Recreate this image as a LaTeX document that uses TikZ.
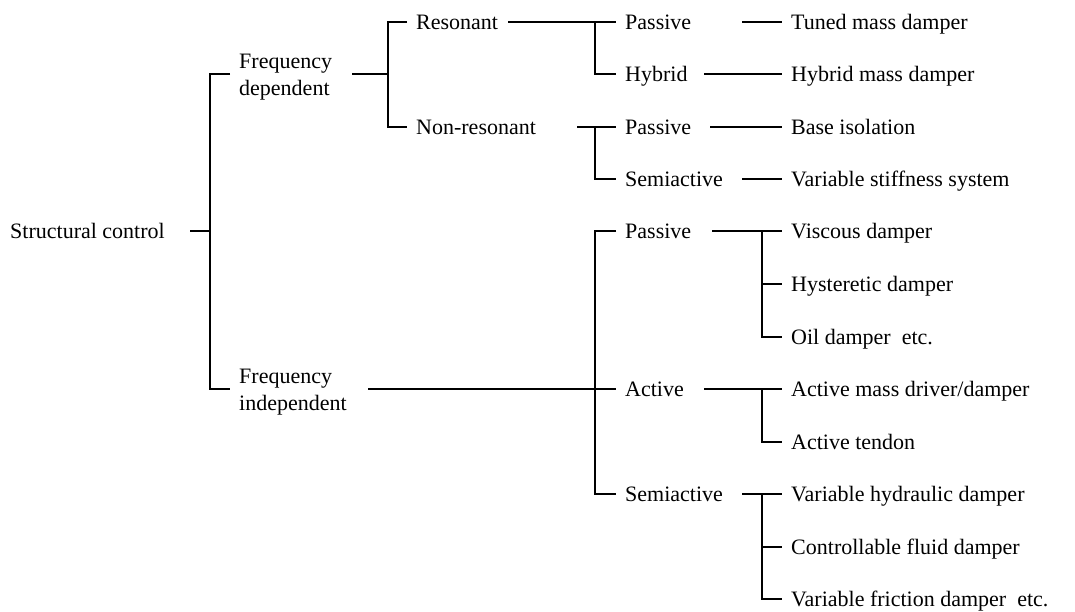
\documentclass[tikz,border=0pt]{standalone}
\usepackage{fontspec}
\setmainfont{Liberation Serif}
\begin{document}
\begin{tikzpicture}[x=1pt,y=-1pt,
  lbl/.style={anchor=west, inner xsep=9pt, inner ysep=0pt,
    text height=14.56pt, text depth=0pt, font=\fontsize{22}{27}\selectfont},
  lbltwo/.style={anchor=base west, align=left, inner xsep=9pt, inner ysep=0pt,
    font=\fontsize{22}{27}\selectfont},
  conn/.style={line width=1.9pt, draw=black}]
\useasboundingbox (0,0) rectangle (1075,611);

% first level (two-line labels sit on the baseline of their last line)
\node[lbl] (sc) at (1,231) {Structural control};
\node[lbltwo] (fd) at (230,95) {Frequency\\dependent};
\node[lbltwo] (fi) at (230,410) {Frequency\\independent};

% second level
\node[lbl] (res)  at (407,22)  {Resonant};
\node[lbl] (nres) at (407,127) {Non-resonant};

% third level
\node[lbl] (p1)  at (616,22)  {Passive};
\node[lbl] (hyb) at (616,74)  {Hybrid};
\node[lbl] (p2)  at (616,127) {Passive};
\node[lbl] (s1)  at (616,179) {Semiactive};
\node[lbl] (p3)  at (616,231) {Passive};
\node[lbl] (act) at (616,389) {Active};
\node[lbl] (s2)  at (616,494) {Semiactive};

% devices
\node[lbl] (tmd) at (782,22)  {Tuned mass damper};
\node[lbl] (hmd) at (782,74)  {Hybrid mass damper};
\node[lbl] (bi)  at (782,127) {Base isolation};
\node[lbl] (vss) at (782,179) {Variable stiffness system};
\node[lbl] (vd)  at (782,231) {Viscous damper};
\node[lbl] (hd)  at (782,284) {Hysteretic damper};
\node[lbl] (od)  at (782,337) {Oil damper\ \ etc.};
\node[lbl] (amd) at (782,389) {Active mass driver/damper};
\node[lbl] (atd) at (782,442) {Active tendon};
\node[lbl] (vhd) at (782,494) {Variable hydraulic damper};
\node[lbl] (cfd) at (782,547) {Controllable fluid damper};
\node[lbl] (vfd) at (782,599) {Variable friction damper\ \ etc.};

% stub starts and junctions
\coordinate (scout)   at (190,231);
\coordinate (j1)      at (210,231);
\coordinate (fdout)   at (352,74);
\coordinate (fdin)    at (230,74);
\coordinate (fiin)    at (230,389);
\coordinate (fiout)   at (368,389);
\coordinate (j2)      at (388,74);
\coordinate (resout)  at (508,22);
\coordinate (j3)      at (595,22);
\coordinate (nresout) at (577,127);
\coordinate (j4)      at (595,127);
\coordinate (j5)      at (595,389);
\coordinate (p1out)   at (742,22);
\coordinate (hybout)  at (704,74);
\coordinate (p2out)   at (710,127);
\coordinate (s1out)   at (742,179);
\coordinate (p3out)   at (712,231);
\coordinate (j6)      at (762,231);
\coordinate (actout)  at (704,389);
\coordinate (j7)      at (762,389);
\coordinate (s2out)   at (742,494);
\coordinate (j8)      at (762,494);

% structural control
\draw[conn] (scout) -- (j1);
\draw[conn] (fdin) -| (j1) |- (fiin);

% frequency dependent
\draw[conn] (fdout) -- (j2);
\draw[conn] (res.west) -| (j2) |- (nres.west);
\draw[conn] (resout) -- (p1.west);
\draw[conn] (j3) |- (hyb.west);
\draw[conn] (nresout) -- (p2.west);
\draw[conn] (j4) |- (s1.west);

% frequency independent
\draw[conn] (fiout) -- (act.west);
\draw[conn] (p3.west) -| (j5) |- (s2.west);

% leaves
\draw[conn] (p1out) -- (tmd.west);
\draw[conn] (hybout) -- (hmd.west);
\draw[conn] (p2out) -- (bi.west);
\draw[conn] (s1out) -- (vss.west);

\draw[conn] (p3out) -- (vd.west);
\draw[conn] (j6) |- (od.west);
\draw[conn] (j6 |- hd.west) -- (hd.west);

\draw[conn] (actout) -- (amd.west);
\draw[conn] (j7) |- (atd.west);

\draw[conn] (s2out) -- (vhd.west);
\draw[conn] (j8) |- (vfd.west);
\draw[conn] (j8 |- cfd.west) -- (cfd.west);
\end{tikzpicture}
\end{document}
